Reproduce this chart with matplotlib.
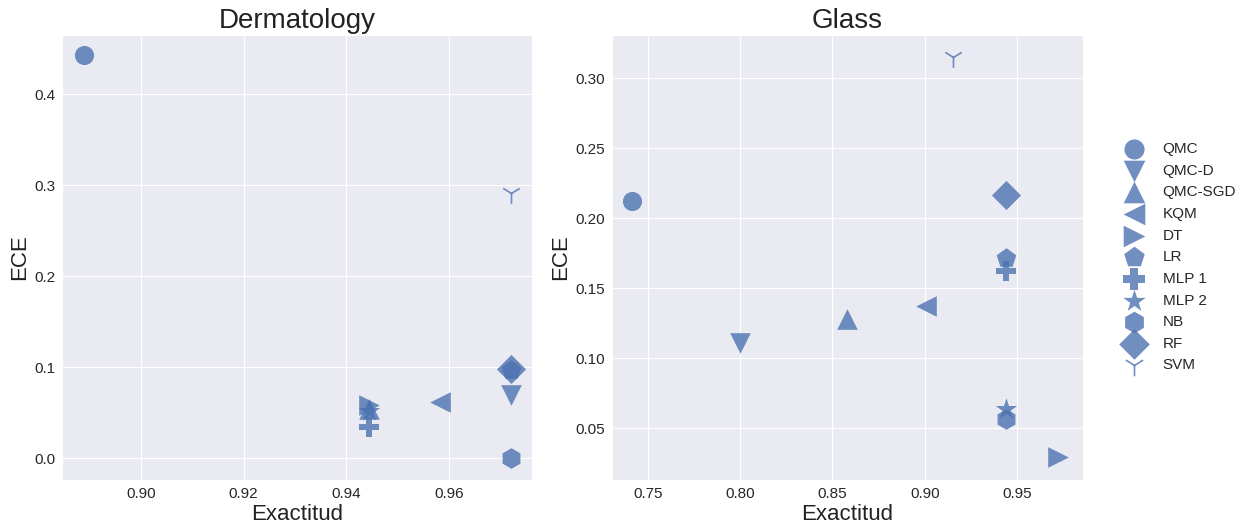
import matplotlib
matplotlib.use("Agg")
import matplotlib.pyplot as plt
import seaborn as sns

sns.set_style("darkgrid")
plt.rcParams['font.family'] = ['Liberation Sans', 'DejaVu Sans']

models = ["QMC", "QMC-D", "QMC-SGD", "KQM", "DT", "LR", "MLP 1", "MLP 2", "NB", "RF", "SVM"]
markers = ["o", "v", "^", "<", ">", "p", "P", "*", "h", "D", "1"]

derm_acc = [0.8889, 0.9722, 0.9444, 0.9583, 0.9444, 0.9722, 0.9444, 0.9444, 0.9722, 0.9722, 0.9722]
derm_ece = [0.443, 0.069, 0.054, 0.0615, 0.058, 0.097, 0.034, 0.052, 0.0, 0.098, 0.291]

glass_acc = [0.7413, 0.80, 0.8576, 0.9005, 0.9722, 0.944, 0.944, 0.944, 0.944, 0.944, 0.9152]
glass_ece = [0.2121, 0.1107, 0.1279, 0.1371, 0.0293, 0.1714, 0.162, 0.0636, 0.0564, 0.2164, 0.315]

color = "#4c72b0"
fig = plt.figure(figsize=(12.48, 5.25), dpi=100)
ax1 = fig.add_axes([0.0497, 0.0857, 0.3766, 0.8476])
ax2 = fig.add_axes([0.4904, 0.0857, 0.3774, 0.8476])

sizes = {"o": 190, "v": 220, "^": 220, "<": 220, ">": 220, "p": 220, "P": 220,
         "*": 260, "h": 220, "D": 220, "1": 220}

for ax, acc, ece, title in [(ax1, derm_acc, derm_ece, "Dermatology"),
                            (ax2, glass_acc, glass_ece, "Glass")]:
    for m, mk, x, y in zip(models, markers, acc, ece):
        ax.scatter(x, y, marker=mk, s=sizes[mk], color=color, alpha=0.8,
                   linewidths=1.2 if mk == "1" else 0, label=m)
    ax.set_title(title, fontsize=20, color="#222222", pad=5)
    ax.set_xlabel("Exactitud", fontsize=16, color="#222222", labelpad=2)
    ax.set_ylabel("ECE", fontsize=16, color="#222222", labelpad=3)
    ax.tick_params(labelsize=11, pad=1.5)

ax1.set_xlim(0.8846, 0.9762)
ax1.set_ylim(-0.024, 0.465)
ax1.set_xticks([0.90, 0.92, 0.94, 0.96])
ax1.set_xticklabels(["0.90", "0.92", "0.94", "0.96"])
ax1.set_yticks([0.0, 0.1, 0.2, 0.3, 0.4])
ax1.set_yticklabels(["0.0", "0.1", "0.2", "0.3", "0.4"])

ax2.set_xlim(0.7305, 0.9858)
ax2.set_ylim(0.0129, 0.3307)
ax2.set_xticks([0.75, 0.80, 0.85, 0.90, 0.95])
ax2.set_xticklabels(["0.75", "0.80", "0.85", "0.90", "0.95"])
ax2.set_yticks([0.05, 0.10, 0.15, 0.20, 0.25, 0.30])
ax2.set_yticklabels(["0.05", "0.10", "0.15", "0.20", "0.25", "0.30"])

handles, labels = ax2.get_legend_handles_labels()
fig.legend(handles, labels, loc="center left", bbox_to_anchor=(0.885, 0.51),
           frameon=False, fontsize=11, handletextpad=0.9, labelspacing=0.5,
           markerscale=1.05)

fig.savefig("out.png", dpi=100)
